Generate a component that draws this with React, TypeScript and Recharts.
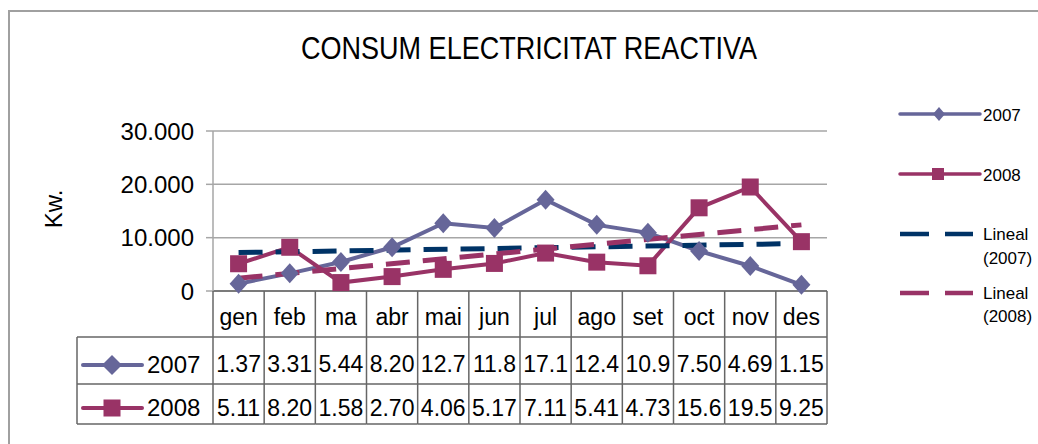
import { CartesianGrid, Legend, Line, LineChart, XAxis, YAxis } from 'recharts'

const MONTHS = ['gen', 'feb', 'ma', 'abr', 'mai', 'jun', 'jul', 'ago', 'set', 'oct', 'nov', 'des']
const KW_2007 = [1370, 3310, 5440, 8200, 12700, 11800, 17100, 12400, 10900, 7500, 4690, 1150]
const KW_2008 = [5110, 8200, 1580, 2700, 4060, 5170, 7110, 5410, 4730, 15600, 19500, 9250]
// linear trend lines at gen and des
const TREND_2007 = [7200, 8900]
const TREND_2008 = [2400, 12400]
const Y_TICKS = [0, 10000, 20000, 30000]

const C2007 = '#666699'
const C2008 = '#993366'
const CT2007 = '#003366'
const CT2008 = '#993366'
const FONT = "'Liberation Sans', Arial, sans-serif"
const GRID = '#a6a6a6'
const TABLE = '#666666'

const W = 1038
const H = 444
const PLOT_LEFT = 213
const PLOT_RIGHT = 827
const CELL_W = (PLOT_RIGHT - PLOT_LEFT) / MONTHS.length
const TABLE_LEFT = 77

const last = MONTHS.length - 1
const data = MONTHS.map((m, i) => ({
  month: m,
  y2007: KW_2007[i],
  y2008: KW_2008[i],
  t2007: i === 0 ? TREND_2007[0] : i === last ? TREND_2007[1] : null,
  t2008: i === 0 ? TREND_2008[0] : i === last ? TREND_2008[1] : null,
}))

const fmt = (v: number) => Math.round(v).toString().replace(/\B(?=(\d{3})+(?!\d))/g, '.')
// excel clips the cell text to what fits
const cellText = (v: number) => fmt(v).slice(0, 4)

function Diamond({ cx, cy, w, h, color }: { cx: number; cy: number; w: number; h: number; color: string }) {
  return <polygon points={`${cx},${cy - h} ${cx + w},${cy} ${cx},${cy + h} ${cx - w},${cy}`} fill={color} />
}

function Square({ cx, cy, s, color }: { cx: number; cy: number; s: number; color: string }) {
  return <rect x={cx - s / 2} y={cy - s / 2} width={s} height={s} fill={color} />
}

function TableTick(props: any) {
  const { x, y, payload } = props
  const i = payload.index ?? MONTHS.indexOf(payload.value)
  const half = CELL_W / 2
  const left = x - half
  const right = x + half
  const txt = { fontFamily: FONT, fontSize: 23, fill: '#000', textAnchor: 'middle' as const }
  return (
    <g>
      {i === 0 && (
        <g>
          <line x1={left} x2={left} y1={y} y2={y + 133} stroke={TABLE} strokeWidth={1.5} />
          <line x1={TABLE_LEFT} x2={TABLE_LEFT} y1={y + 46} y2={y + 133} stroke={TABLE} strokeWidth={1.5} />
          <line x1={TABLE_LEFT} x2={left} y1={y + 46} y2={y + 46} stroke={TABLE} strokeWidth={1.5} />
          <line x1={TABLE_LEFT} x2={left} y1={y + 93} y2={y + 93} stroke={TABLE} strokeWidth={1.5} />
          <line x1={TABLE_LEFT} x2={left} y1={y + 133} y2={y + 133} stroke={TABLE} strokeWidth={1.5} />
          <line x1={83} x2={142} y1={y + 74} y2={y + 74} stroke={C2007} strokeWidth={4} strokeLinecap="round" />
          <Diamond cx={112} cy={y + 74} w={10} h={10} color={C2007} />
          <text x={147} y={y + 82} fontFamily={FONT} fontSize={24}>2007</text>
          <line x1={83} x2={142} y1={y + 117} y2={y + 117} stroke={C2008} strokeWidth={4} strokeLinecap="round" />
          <Square cx={112} cy={y + 117} s={17} color={C2008} />
          <text x={147} y={y + 125} fontFamily={FONT} fontSize={24}>2008</text>
        </g>
      )}
      <line x1={right} x2={right} y1={y} y2={y + 133} stroke={TABLE} strokeWidth={1.5} />
      <line x1={left} x2={right} y1={y + 46} y2={y + 46} stroke={TABLE} strokeWidth={1.5} />
      <line x1={left} x2={right} y1={y + 93} y2={y + 93} stroke={TABLE} strokeWidth={1.5} />
      <line x1={left} x2={right} y1={y + 133} y2={y + 133} stroke={TABLE} strokeWidth={1.5} />
      <text x={x} y={y + 34} {...txt}>{payload.value}</text>
      <text x={x} y={y + 81} {...txt}>{cellText(KW_2007[i])}</text>
      <text x={x} y={y + 125} {...txt}>{cellText(KW_2008[i])}</text>
    </g>
  )
}

function SideLegend({ payload }: any) {
  const items = (payload ?? []) as any[]
  const rows: Record<string, { y: number; base: number[] }> = {
    y2007: { y: 24, base: [31] },
    y2008: { y: 84, base: [91] },
    t2007: { y: 144, base: [150, 174] },
    t2008: { y: 203, base: [209, 232] },
  }
  return (
    <svg width={158} height={250} style={{ overflow: 'visible' }}>
      {items.map((it) => {
        const r = rows[it.dataKey as string]
        if (!r) return null
        const trend = String(it.dataKey).startsWith('t')
        const words = trend ? String(it.value).split(' ') : [String(it.value)]
        return (
          <g key={it.dataKey}>
            <line
              x1={20}
              x2={trend ? 93 : 100}
              y1={r.y}
              y2={r.y}
              stroke={it.color}
              strokeWidth={trend ? 4.5 : 3.5}
              strokeDasharray={trend ? '29 16' : undefined}
              strokeLinecap={trend ? 'butt' : 'round'}
            />
            {it.dataKey === 'y2007' && <Diamond cx={59} cy={r.y} w={6} h={7} color={it.color} />}
            {it.dataKey === 'y2008' && <Square cx={58} cy={r.y} s={12} color={it.color} />}
            {words.map((w, k) => (
              <text key={k} x={103} y={r.base[k]} fontFamily={FONT} fontSize={17} fill="#000">
                {w}
              </text>
            ))}
          </g>
        )
      })}
    </svg>
  )
}

export default function App() {
  return (
    <div style={{ position: 'fixed', left: 0, top: 0, width: W, height: H, background: '#fff', overflow: 'hidden' }}>
      <LineChart
        width={W}
        height={H}
        data={data}
        margin={{ top: 131, right: W - PLOT_RIGHT, bottom: 0, left: 0 }}
      >
        <CartesianGrid vertical={false} stroke={GRID} strokeWidth={1.5} />
        <XAxis
          dataKey="month"
          scale="band"
          interval={0}
          height={H - 291}
          tickLine={false}
          tickSize={0}
          tickMargin={0}
          axisLine={{ stroke: TABLE, strokeWidth: 1.5 }}
          tick={(p: any) => <TableTick {...p} />}
        />
        <YAxis
          width={PLOT_LEFT}
          domain={[0, 30000]}
          ticks={Y_TICKS}
          interval={0}
          tickFormatter={fmt}
          tickSize={7}
          tickMargin={12}
          axisLine={{ stroke: GRID, strokeWidth: 1.5 }}
          tickLine={{ stroke: GRID, strokeWidth: 1.5 }}
          tick={{ fontFamily: FONT, fontSize: 24, fill: '#000' }}
        />
        <Legend
          layout="vertical"
          align="center"
          verticalAlign="middle"
          wrapperStyle={{ left: 880, top: 90, width: 158, height: 250 }}
          content={<SideLegend />}
        />
        <Line
          dataKey="y2007"
          name="2007"
          stroke={C2007}
          strokeWidth={4}
          isAnimationActive={false}
          dot={(p: any) => <Diamond key={`d7-${p.index}`} cx={p.cx} cy={p.cy} w={9} h={10} color={C2007} />}
          activeDot={false}
        />
        <Line
          dataKey="y2008"
          name="2008"
          stroke={C2008}
          strokeWidth={4}
          isAnimationActive={false}
          dot={(p: any) => <Square key={`d8-${p.index}`} cx={p.cx} cy={p.cy} s={17} color={C2008} />}
          activeDot={false}
        />
        <Line
          dataKey="t2007"
          name="Lineal (2007)"
          stroke={CT2007}
          strokeWidth={5}
          strokeDasharray="24 13"
          connectNulls
          dot={false}
          activeDot={false}
          isAnimationActive={false}
        />
        <Line
          dataKey="t2008"
          name="Lineal (2008)"
          stroke={CT2008}
          strokeWidth={5}
          strokeDasharray="24 13"
          connectNulls
          dot={false}
          activeDot={false}
          isAnimationActive={false}
        />
      </LineChart>
      <svg
        width={W}
        height={H}
        style={{ position: 'absolute', left: 0, top: 0, pointerEvents: 'none' }}
      >
        <path d="M9,460 V11 H1100" fill="none" stroke="#a0a0a0" strokeWidth={2} />
        <text
          x={529}
          y={59}
          textAnchor="middle"
          fontFamily={FONT}
          fontSize={32}
          fill="#000"
          transform="translate(529,0) scale(0.845,1) translate(-529,0)"
        >
          CONSUM ELECTRICITAT REACTIVA
        </text>
        <text
          transform="translate(62,209) rotate(-90)"
          textAnchor="middle"
          fontFamily={FONT}
          fontSize={24}
          fill="#000"
        >
          Kw.
        </text>
      </svg>
    </div>
  )
}
